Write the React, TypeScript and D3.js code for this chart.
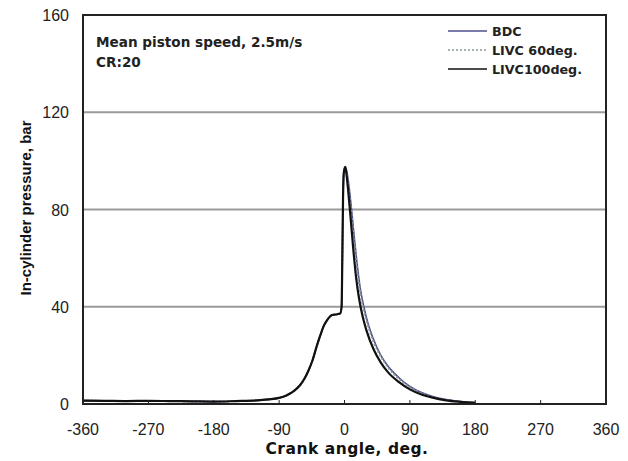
import React from "react";
import * as d3 from "d3";

const xTicks = [-360, -270, -180, -90, 0, 90, 180, 270, 360];
const yTicks = [0, 40, 80, 120, 160];
const gridValues = [40, 80, 120];

// compression stroke (shared by all cases)
const compAngle = [-360, -330, -300, -270, -240, -210, -180, -150, -120, -105, -90, -80, -75, -70, -61, -55, -50, -44, -38, -33, -29, -25, -20, -17, -12, -9, -6, -4, -3, -2];
const compPressure = [1.4, 1.3, 1.2, 1.3, 1.2, 1.1, 1.0, 1.2, 1.5, 1.9, 2.5, 3.5, 4.3, 5.3, 7.8, 10.5, 13.5, 18, 24, 28.5, 31.8, 34, 36, 36.6, 36.8, 37, 37.2, 40, 60, 85];

// expansion strokes
const bdcAngle = [-1, 1, 3, 6, 10, 14, 18, 22, 27, 32, 40, 50, 60, 75, 90, 105, 120, 140, 160, 180];
const bdcPressure = [95, 97.5, 96, 90, 79, 67, 56, 47, 39.5, 33.5, 26.5, 20, 15.5, 10.8, 7.2, 4.8, 3.2, 1.8, 1.0, 0.6];
const livc60Angle = [-1, 1, 3, 6, 10, 14, 18, 22, 27, 32, 40, 50, 60, 75, 90, 105, 120, 140, 160, 180];
const livc60Pressure = [95, 97, 95.5, 88, 77, 65, 54, 45.5, 38, 32.5, 25.5, 19.5, 15, 10.3, 6.9, 4.6, 3.0, 1.7, 0.9, 0.5];
const livc100Angle = [-1, 1, 2, 5, 8, 12, 16, 20, 25, 30, 40, 50, 60, 75, 90, 105, 120, 140, 160, 180];
const livc100Pressure = [95, 97.5, 96, 88, 78, 64, 52, 43.5, 36, 30.5, 22.5, 17, 13, 9, 6, 4, 2.7, 1.5, 0.9, 0.5];

const legendNames = ["BDC", "LIVC 60deg.", "LIVC100deg."];

const W = 628;
const H = 461;
const m = { left: 83, right: 606, top: 15, bottom: 404 };

export default function App() {
  const x = d3.scaleLinear().domain([-360, 360]).range([m.left, m.right]);
  const y = d3.scaleLinear().domain([0, 160]).range([m.bottom, m.top]);

  const line = d3
    .line<[number, number]>()
    .x((d) => x(d[0]))
    .y((d) => y(d[1]))
    .curve(d3.curveMonotoneX);

  const build = (ea: number[], ep: number[]) => {
    const pts: [number, number][] = compAngle.map((a, i) => [a, compPressure[i]]);
    ea.forEach((a, i) => pts.push([a, ep[i]]));
    return pts;
  };

  const series = [
    { name: legendNames[0], d: build(bdcAngle, bdcPressure), color: "#4d4f8c", width: 1.6, dash: "" },
    { name: legendNames[1], d: build(livc60Angle, livc60Pressure), color: "#8c9898", width: 1.8, dash: "2,2" },
    { name: legendNames[2], d: build(livc100Angle, livc100Pressure), color: "#111", width: 2.2, dash: "" },
  ];

  const font = "Arial, 'Liberation Sans', sans-serif";
  const wide = "'DejaVu Sans', Verdana, sans-serif";

  return (
    <svg width={W} height={H} style={{ position: "absolute", left: 0, top: 0, background: "#fff" }}>
      {/* grid */}
      {gridValues.map((v) => (
        <line key={v} x1={m.left} x2={m.right} y1={y(v)} y2={y(v)} stroke="#9a9a9a" strokeWidth={1.8} />
      ))}
      {/* series */}
      {series.map((s) => (
        <path
          key={s.name}
          d={line(s.d) || ""}
          fill="none"
          stroke={s.color}
          strokeWidth={s.width}
          strokeDasharray={s.dash || undefined}
        />
      ))}
      {/* frame */}
      <rect x={m.left} y={m.top} width={m.right - m.left} height={m.bottom - m.top} fill="none" stroke="#222" strokeWidth={2} />
      {/* x ticks inside */}
      {xTicks.map((t) => (
        <line key={t} x1={x(t)} x2={x(t)} y1={m.bottom} y2={m.bottom - 4} stroke="#222" strokeWidth={1} />
      ))}
      {/* x tick labels */}
      {xTicks.map((t) => (
        <text key={t} x={x(t)} y={435} textAnchor="middle" fontFamily={font} fontSize={16} fill="#222">
          {t < 0 ? "-" + Math.abs(t) : String(t)}
        </text>
      ))}
      {/* y tick labels */}
      {yTicks.map((t) => (
        <text key={t} x={69} y={y(t) + 6} textAnchor="end" fontFamily={font} fontSize={16} fill="#222">
          {t}
        </text>
      ))}
      {/* axis titles */}
      <text x={347} y={454} textAnchor="middle" fontFamily={wide} fontSize={15.5} fontWeight="bold" fill="#111" letterSpacing={0.5}>
        Crank angle, deg.
      </text>
      <text
        transform={`translate(31,208) rotate(-90)`}
        textAnchor="middle"
        fontFamily={font}
        fontSize={15}
        fontWeight="bold"
        fill="#111"
      >
        In-cylinder pressure, bar
      </text>
      {/* annotation */}
      <text x={96} y={47} fontFamily={wide} fontSize={13.6} fontWeight="bold" fill="#222">
        Mean piston speed, 2.5m/s
      </text>
      <text x={96} y={67} fontFamily={wide} fontSize={13.6} fontWeight="bold" fill="#222">
        CR:20
      </text>
      {/* legend */}
      {series.map((s, i) => (
        <g key={s.name} transform={`translate(0,${31 + i * 19})`}>
          <line x1={448} x2={487} y1={0} y2={0} stroke={s.color} strokeWidth={1.6} strokeDasharray={s.dash || undefined} />
          <text x={492} y={4.5} fontFamily={wide} fontSize={12.7} fontWeight="bold" fill="#222">
            {s.name}
          </text>
        </g>
      ))}
    </svg>
  );
}
